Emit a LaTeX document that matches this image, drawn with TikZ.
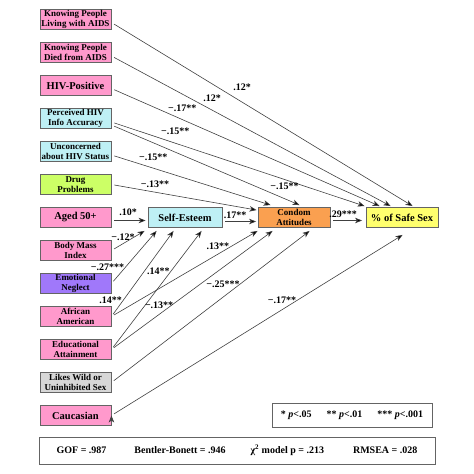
\documentclass[tikz,border=0pt]{standalone}
\usepackage{fontspec}
\setmainfont{Liberation Serif}
\usetikzlibrary{arrows.meta,positioning}

\definecolor{pinkbox}{RGB}{255,153,204}
\definecolor{cyanbox}{RGB}{190,240,245}
\definecolor{greenbox}{RGB}{204,255,102}
\definecolor{purplebox}{RGB}{160,120,250}
\definecolor{graybox}{RGB}{215,215,215}
\definecolor{orangebox}{RGB}{250,160,80}
\definecolor{yellowbox}{RGB}{255,255,110}
\definecolor{boxline}{RGB}{100,100,100}

\begin{document}
\begin{tikzpicture}[x=1pt, y=-1pt, node distance=33pt, on grid,
    >={Stealth[length=7pt,width=5.5pt,inset=2pt]},
    every node/.append style={align=center, font=\fontsize{9}{9.5}\selectfont\bfseries},
    var/.style={draw=boxline, line width=0.9pt, minimum width=71pt, minimum height=20pt, inner sep=0.5pt},
    oneline/.style={font=\fontsize{10.5}{12}\selectfont\bfseries},
    coef/.style={font=\fontsize{10}{10}\selectfont\bfseries, inner sep=1pt},
    legend/.style={draw=boxline, line width=0.9pt, fill=white, font=\fontsize{10}{12}\selectfont\bfseries},
    link/.style={->, draw=black!75, line width=0.6pt, shorten <=3pt}]
   \useasboundingbox (0,0) rectangle (474,474);

   % predictors
   \node [var, fill=pinkbox] (Living) at (75.5,19.5) {Knowing People\\Living with AIDS};
   \node [var, fill=pinkbox, below=of Living] (Died) {Knowing People\\Died from AIDS};
   \node [var, oneline, fill=pinkbox, below=of Died] (HIVPos) {HIV-Positive};
   \node [var, fill=cyanbox, below=of HIVPos] (Accuracy) {Perceived HIV\\Info Accuracy};
   \node [var, fill=cyanbox, below=of Accuracy] (Unconcerned) {Unconcerned\\about HIV Status};
   \node [var, fill=greenbox, below=of Unconcerned] (Drug) {Drug\\Problems};
   \node [var, oneline, fill=pinkbox, below=of Drug] (Aged) {Aged 50+};
   \node [var, fill=pinkbox, below=of Aged] (BMI) {Body Mass\\Index};
   \node [var, fill=purplebox, below=of BMI] (Neglect) {Emotional\\Neglect};
   \node [var, fill=pinkbox, below=of Neglect] (AfrAm) {African\\American};
   \node [var, fill=pinkbox, below=of AfrAm] (Edu) {Educational\\Attainment};
   \node [var, fill=graybox, below=of Edu] (Wild) {Likes Wild or\\Uninhibited Sex};
   \node [var, oneline, fill=pinkbox, below=of Wild] (Cauc) {Caucasian};

   % mediators and outcome
   \node [var, oneline, fill=cyanbox, minimum width=74pt, right=109.5pt of Aged] (SE) {Self-Esteem};
   \node [var, fill=orangebox, minimum width=72pt, right=109pt of SE] (Condom) {Condom\\Attitudes};
   \node [var, oneline, fill=yellowbox, minimum width=72pt, right=108pt of Condom] (SafeSex) {\% of Safe Sex};

   % fit statistics
   \node [legend, minimum width=160pt, minimum height=24pt] (Sig) at (352,415)
      {* \textit{p}<.05\hspace{15pt}** \textit{p}<.01\hspace{15pt}*** \textit{p}<.001};
   \node [legend, minimum width=396pt, minimum height=27pt] (Fit) at (237,450.5)
      {GOF = .987\hspace{28pt}Bentler-Bonett = .946\hspace{25pt}χ\textsuperscript{2} model p = .213\hspace{29pt}RMSEA = .028};

   \path [link]
   ([yshift=-3pt]Living.east) edge node [coef, pos=0.434, above=10pt] {.12*} ([xshift=47pt,yshift=1pt]SafeSex.north west)
   ([yshift=-3.5pt]Died.east) edge node [coef, pos=0.361, above=7.5pt] {.12*} ([xshift=25pt,yshift=1pt]SafeSex.north west)
   ([yshift=-3pt]HIVPos.east) edge node [coef, pos=0.264, above=6.5pt] {−.17**} ([xshift=14pt,yshift=1pt]SafeSex.north west)
   ([yshift=-3.5pt]Accuracy.east) edge node [coef, pos=0.252, above=7.5pt] {−.15**} ([xshift=-1pt,yshift=1pt]SafeSex.north west)
   ([yshift=-6.5pt]Accuracy.east) edge node [coef, pos=0.92, above=7.5pt] {−.15**} ([xshift=42pt,yshift=2pt]Condom.north west)
   ([yshift=-3.5pt]Unconcerned.east) edge node [coef, pos=0.2625, above=6.5pt] {−.15**} ([xshift=13pt,yshift=2pt]Condom.north west)
   (Drug.east) edge node [coef, pos=0.3, above=3.5pt] {−.13**} ([xshift=-1pt,yshift=-3pt]Condom.north west)
   ([yshift=-3pt]Aged.east) edge node [coef, pos=0.49, above=3.5pt] {.10*} ([xshift=-2pt,yshift=-3pt]SE.west)
   ([yshift=-4pt]SE.east) edge node [coef, pos=0.38, above=2pt] {.17**} ([xshift=-1.5pt,yshift=-4pt]Condom.west)
   ([yshift=-3pt]Condom.east) edge node [coef, pos=0.4, above=2pt] {.29***} ([xshift=-3.5pt,yshift=-3pt]SafeSex.west)
   (BMI.east) edge node [coef, pos=0.35, above=1.5pt] {−.12*} ([xshift=-3pt,yshift=-3pt]SE.south west)
   (Neglect.east) edge node [coef, pos=0.31, left] {−.27***} ([xshift=9pt,yshift=-3pt]SE.south west)
   (AfrAm.east) edge node [coef, pos=0.19, left] {.14**} ([xshift=26pt,yshift=-3pt]SE.south west)
   (Edu.east) edge node [coef, pos=0.66, left] {.14**} ([xshift=54pt,yshift=-3pt]SE.south west)
   (AfrAm.east) edge node [coef, pos=0.728, above=3.3pt] {.13**} ([yshift=-3pt]Condom.south west)
   (Edu.east) edge node [coef, pos=0.296, above=4.4pt] {−.13**} ([xshift=15pt,yshift=-3pt]Condom.south west)
   (Wild.east) edge node [coef, pos=0.563, above=8pt] {−.25***} ([xshift=52pt,yshift=-3pt]Condom.south west)
   (Cauc.east) edge node [coef, pos=0.586, above=4.7pt] {−.17**} ([xshift=37pt,yshift=-7pt]SafeSex.south west);
\end{tikzpicture}
\end{document}
